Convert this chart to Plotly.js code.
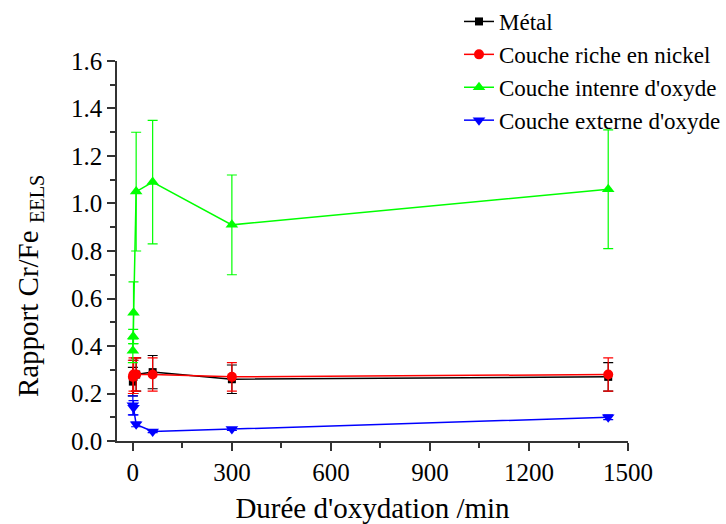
<!DOCTYPE html>
<html><head><meta charset="utf-8">
<script src="https://cdn.plot.ly/plotly-3.0.1.min.js"></script>
<style>body{margin:0;background:#fff}#c{width:726px;height:524px}</style>
</head><body><div id="c"></div>
<script>
const seriesNames = ["Métal", "Couche riche en nickel", "Couche intenre d'oxyde", "Couche externe d'oxyde"];
const metalX = [0, 2, 10, 60, 300, 1440];
const metalY = [0.25, 0.27, 0.28, 0.29, 0.26, 0.27];
const metalErr = [0.06, 0.07, 0.07, 0.07, 0.06, 0.06];
const nickelX = [0, 2, 10, 60, 300, 1440];
const nickelY = [0.27, 0.28, 0.28, 0.28, 0.27, 0.28];
const nickelErr = [0.07, 0.07, 0.07, 0.07, 0.06, 0.07];
const interneX = [0, 1, 2, 10, 60, 300, 1440];
const interneY = [0.38, 0.44, 0.54, 1.05, 1.09, 0.91, 1.06];
const interneErr = [0.05, 0.03, 0.13, 0.25, 0.26, 0.21, 0.25];
const externeX = [0, 2, 10, 60, 300, 1440];
const externeY = [0.15, 0.14, 0.07, 0.04, 0.05, 0.10];
const externeErr = [0.04, 0.03, 0.01, 0.005, 0.005, 0.01];
const xTicks = [0, 300, 600, 900, 1200, 1500];
const yTicks = [0, 0.2, 0.4, 0.6, 0.8, 1.0, 1.2, 1.4, 1.6];
const colors = ["#000000", "#ff0000", "#00ff00", "#0000ff"];
const symbols = ["square", "circle", "triangle-up", "triangle-down"];
const sizes = [8, 10, 11, 11];
const xs = [metalX, nickelX, interneX, externeX];
const ys = [metalY, nickelY, interneY, externeY];
const errs = [metalErr, nickelErr, interneErr, externeErr];

const traces = seriesNames.map((n, i) => ({
  x: xs[i], y: ys[i], name: n, type: 'scatter', mode: 'lines+markers',
  line: {color: colors[i], width: 1.5},
  marker: {color: colors[i], symbol: symbols[i], size: sizes[i]},
  error_y: {type: 'data', array: errs[i], visible: true, color: colors[i], thickness: 1.2, width: 5}
}));

const fam = 'Times New Roman, Liberation Serif, serif';
const f = (s) => ({family: fam, size: s, color: '#000'});
const layout = {
  width: 726, height: 524,
  margin: {l: 117, r: 0, t: 0, b: 83},
  paper_bgcolor: '#fff', plot_bgcolor: '#fff',
  font: f(24),
  showlegend: true,
  legend: {x: 1, y: 1, xanchor: 'right', yanchor: 'top',
           bgcolor: 'rgba(0,0,0,0)', font: f(23), traceorder: 'normal'},
  xaxis: {
    domain: [0, 0.8391],
    range: [-48, 1500], tickvals: xTicks,
    ticks: 'outside', ticklen: 8, tickwidth: 1.5, tickcolor: '#333',
    minor: {dtick: 150, tick0: 0, ticks: 'outside', ticklen: 5, tickwidth: 1.5, tickcolor: '#333'},
    showline: true, linecolor: '#333', linewidth: 1.5, showgrid: false, zeroline: false,
    tickfont: f(25),
    title: {text: "Durée d'oxydation /min", font: f(29), standoff: 14}
  },
  yaxis: {
    domain: [0, 0.8617],
    range: [0, 1.6], tickvals: yTicks, tickformat: '.1f',
    ticks: 'outside', ticklen: 8, tickwidth: 1.5, tickcolor: '#333',
    minor: {dtick: 0.1, tick0: 0, ticks: 'outside', ticklen: 5, tickwidth: 1.5, tickcolor: '#333'},
    showline: true, linecolor: '#333', linewidth: 1.5, showgrid: false, zeroline: false,
    tickfont: f(25)
  },
  annotations: [{
    text: "Rapport Cr/Fe <sub>EELS</sub>", textangle: -90, showarrow: false,
    xref: 'paper', yref: 'paper', x: -0.143, y: 0.351, xanchor: 'center', yanchor: 'middle',
    font: f(29)
  }]
};
Plotly.newPlot('c', traces, layout, {displayModeBar: false});
</script></body></html>
